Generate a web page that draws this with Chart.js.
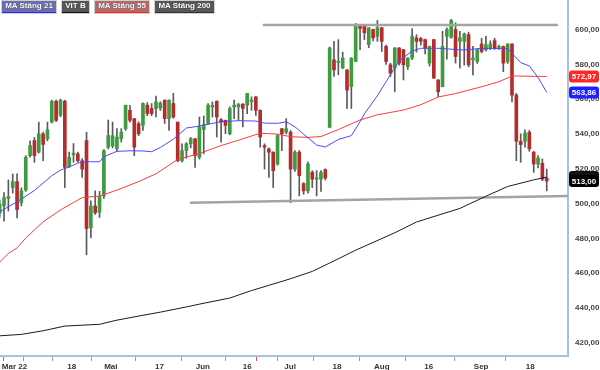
<!DOCTYPE html>
<html>
<head>
<meta charset="utf-8">
<script src="https://cdn.jsdelivr.net/npm/chart.js@4.4.1/dist/chart.umd.min.js"></script>
<style>
    html, body { margin: 0; padding: 0; background: #fff; }
    #wrap { position: relative; width: 600px; height: 370px; overflow: hidden; }
    .leg {
        position: absolute; top: 1px; height: 11px; line-height: 11px;
        font: bold 8px "Liberation Sans", Arial, sans-serif; color: #fff;
        text-align: center; border-bottom: 1px solid; box-shadow: 0 0 0 1px #d0d0d0;
        text-shadow: 0 0 1px #222;
    }
</style>
</head>
<body>
<div id="wrap">
    <canvas id="chart" width="600" height="370"></canvas>
    <div class="leg" style="left:2px;width:54px;background:#6e6eae;border-color:#2a2aff">MA Stäng 21</div>
    <div class="leg" style="left:62px;width:27px;background:#575757;border-color:#111">VIT B</div>
    <div class="leg" style="left:95px;width:54px;background:#b46a6a;border-color:#ff2020">MA Stäng 55</div>
    <div class="leg" style="left:155px;width:59px;background:#575757;border-color:#333">MA Stäng 200</div>
</div>
<script>
// Daily candles (one per trading day, index 0..126)
const opens = [494.5, 498.6, 503.0, 509.2, 512.6, 500.5, 507.7, 527.5, 536.2, 529.5,
    540.0, 537.2, 546.8, 558.8, 550.7, 558.8, 521.2, 528.0, 528.5, 524.6,
    536.2, 486.0, 498.6, 495.0, 504.4, 532.4, 533.0, 531.4, 537.2, 543.0,
    553.6, 548.8, 545.9, 545.0, 556.5, 554.6, 554.6, 554.8, 559.4, 548.8,
    557.5, 546.8, 524.6, 530.4, 534.3, 537.2, 526.6, 542.5, 546.0, 555.5,
    558.8, 548.2, 547.8, 540.1, 555.5, 555.5, 557.1, 556.5, 558.5, 561.3,
    553.6, 533.3, 531.4, 529.5, 522.7, 543.0, 541.0, 541.0, 519.8, 529.5,
    511.5, 507.3, 517.9, 514.0, 514.0, 519.4, 543.8, 582.6, 581.0, 577.8,
    576.8, 567.2, 581.6, 602.0, 602.9, 591.3, 600.0, 596.1, 601.0, 590.3,
    579.7, 577.8, 589.4, 588.4, 578.7, 583.6, 595.2, 594.8, 594.2, 580.7,
    594.2, 571.0, 567.2, 596.1, 595.5, 600.0, 593.2, 593.2, 597.1, 582.6,
    581.6, 591.7, 588.4, 589.0, 593.6, 589.6, 590.3, 581.6, 591.7, 562.3,
    535.8, 535.8, 541.0, 529.5, 522.7, 523.1, 514.6];
const highs = [502.0, 506.3, 513.6, 517.0, 517.0, 509.0, 527.5, 536.0, 538.0, 546.8,
    541.0, 546.8, 559.4, 559.4, 560.0, 559.4, 529.5, 534.5, 529.5, 525.8,
    541.0, 501.5, 507.3, 507.0, 531.0, 548.0, 546.8, 543.0, 543.0, 556.5,
    556.5, 548.8, 547.0, 557.8, 558.0, 557.5, 561.7, 558.5, 559.6, 559.6,
    563.3, 546.8, 534.3, 535.0, 538.0, 537.5, 549.7, 550.3, 557.5, 558.4,
    559.0, 548.8, 548.0, 555.5, 559.4, 557.5, 557.5, 563.3, 561.3, 561.5,
    553.8, 534.3, 532.0, 529.8, 539.6, 543.2, 548.8, 542.0, 530.5, 530.5,
    512.0, 524.0, 518.9, 518.9, 518.9, 520.0, 590.0, 593.2, 594.2, 587.0,
    577.0, 583.8, 603.5, 602.9, 603.0, 601.0, 600.2, 605.2, 601.2, 591.0,
    580.7, 589.6, 589.6, 588.6, 583.8, 600.6, 597.0, 595.5, 594.5, 590.5,
    594.4, 571.2, 599.0, 601.0, 605.8, 603.9, 599.0, 598.0, 598.5, 590.3,
    589.0, 595.0, 596.1, 593.5, 595.0, 591.0, 590.5, 591.8, 591.8, 563.3,
    540.1, 542.4, 542.0, 530.0, 527.5, 525.6, 519.8];
const lows = [492.0, 489.9, 495.7, 506.0, 491.8, 498.6, 507.0, 526.6, 523.7, 529.0,
    524.6, 536.0, 546.3, 547.0, 549.8, 509.2, 520.8, 523.7, 523.7, 515.0,
    470.6, 480.2, 493.7, 492.0, 503.0, 531.4, 532.0, 530.4, 535.3, 542.0,
    546.8, 527.5, 539.0, 542.0, 550.5, 550.5, 549.7, 553.5, 546.0, 542.0,
    549.0, 524.0, 523.7, 526.0, 532.0, 520.8, 525.6, 528.6, 545.5, 549.7,
    538.2, 535.3, 540.1, 539.5, 548.8, 547.8, 544.0, 551.7, 553.6, 550.7,
    532.4, 519.8, 515.0, 509.2, 522.0, 530.4, 540.0, 500.5, 518.5, 504.4,
    505.3, 506.0, 509.2, 504.4, 507.0, 513.5, 543.5, 573.0, 574.0, 577.5,
    554.6, 554.6, 581.5, 588.4, 594.2, 589.5, 593.5, 593.2, 587.4, 580.0,
    573.0, 564.2, 579.5, 571.0, 577.0, 582.6, 587.0, 591.0, 586.0, 579.0,
    572.0, 561.3, 567.0, 583.0, 595.0, 580.7, 577.8, 579.5, 578.5, 573.9,
    580.5, 586.5, 587.5, 588.5, 588.5, 588.5, 575.8, 580.5, 558.4, 524.6,
    523.7, 532.4, 530.0, 517.9, 520.5, 513.1, 507.3];
const closes = [499.7, 503.4, 504.0, 512.6, 496.6, 507.3, 526.6, 533.3, 527.5, 540.1,
    534.0, 542.4, 558.8, 547.8, 559.4, 520.8, 526.6, 529.0, 524.6, 519.8,
    485.6, 498.6, 494.7, 504.0, 530.4, 539.1, 539.0, 538.2, 541.0, 556.5,
    547.8, 532.4, 540.1, 557.5, 551.7, 551.7, 558.4, 557.7, 548.8, 559.4,
    549.7, 524.6, 530.4, 534.3, 537.2, 527.5, 544.0, 545.3, 556.5, 556.5,
    549.7, 546.8, 544.9, 554.6, 556.5, 557.1, 554.6, 563.3, 559.5, 553.6,
    538.2, 532.4, 529.5, 518.9, 539.1, 540.1, 543.0, 519.8, 529.5, 516.0,
    507.3, 522.7, 514.0, 514.8, 517.9, 514.6, 589.4, 576.8, 581.8, 583.6,
    565.2, 583.6, 602.9, 600.6, 598.1, 601.0, 595.2, 601.0, 593.2, 581.6,
    574.9, 589.4, 580.7, 579.7, 583.6, 596.1, 593.2, 593.2, 589.4, 590.3,
    572.0, 564.2, 590.3, 600.0, 605.2, 584.5, 595.2, 597.5, 579.7, 583.6,
    588.4, 587.4, 591.3, 591.7, 589.4, 590.2, 580.7, 591.7, 562.3, 535.8,
    533.9, 540.5, 531.4, 522.7, 526.2, 514.0, 513.0];

// Moving averages, read at selected trading days
const ma21Days = [0, 4, 8, 12, 14, 16, 18, 20, 23, 24, 27, 30, 33, 35, 37, 40, 43, 45, 47, 51,
    55, 59, 61, 64, 66, 68, 71, 73, 75, 78, 81, 83, 84, 87, 90, 92, 95, 97, 101, 107,
    111, 117, 118, 120, 122, 124, 126];
const ma21Values = [495.3, 501.0, 507.5, 516.0, 519.2, 521.0, 523.3, 524.0, 524.0, 526.9,
    530.0, 530.3, 530.2, 529.8, 532.2, 537.0, 543.4, 544.1, 545.1, 547.0,
    547.6, 547.4, 546.2, 546.1, 547.0, 544.1, 537.8, 533.6, 532.5, 536.8,
    539.0, 547.0, 551.5, 562.0, 574.0, 582.0, 587.6, 589.2, 589.2, 588.2,
    589.2, 589.0, 586.3, 581.0, 579.0, 572.5, 563.86];
const ma55Days = [0, 2, 4, 6, 10, 14, 17, 19, 23, 27, 32, 36, 41, 46, 51, 55, 60, 64, 67, 71,
    74, 78, 83, 87, 93, 97, 101, 105, 111, 115, 118, 121, 126];
const ma55Values = [466.4, 471.4, 474.5, 480.2, 489.5, 496.3, 500.6, 503.4, 504.3, 507.7,
    512.6, 517.1, 525.3, 528.8, 533.3, 536.4, 540.4, 539.9, 538.4, 538.0,
    538.5, 542.5, 548.0, 551.0, 553.7, 556.8, 561.2, 563.2, 567.1, 570.0,
    573.3, 573.2, 572.97];
const ma200Days = [0, 5, 10, 15, 23, 27, 33, 37, 43, 46, 53, 58, 62, 67, 72, 76, 82, 91, 96, 106,
    112, 117, 123, 126];
const ma200Values = [424.0, 424.8, 426.9, 429.6, 430.6, 433.0, 435.8, 437.6, 440.6, 442.2,
    445.7, 450.0, 453.0, 456.8, 461.0, 465.8, 473.2, 483.2, 489.4, 497.2,
    504.2, 509.8, 513.6, 515.2];

// Trend lines drawn on the chart: [day, price] at each end
const resistanceLine = [[60.6, 602.6], [128.6, 602.6]];
const supportLine = [[43.8, 500.4], [130.9, 504.3]];

// Axis ticks
const yTicks = [420, 440, 460, 480, 500, 520, 540, 560, 580, 600];
const xTickDays = [1.75, 3.4, 7.75, 16.6, 25.6, 36.8, 46.8, 57.0, 61.3, 66.9, 77.7, 88.0, 98.8, 110.9, 122.2];
const xTickLabels = ["", "Mar 22", "", "18", "Mai", "17", "Jun", "16", "", "Jul", "18", "Aug", "16", "Sep", "18"];
const xTickMarkColors = ["#e05050", "rgba(0,0,0,0)", "#7ea6c6", "#7ea6c6", "#7ea6c6", "#7ea6c6", "#7ea6c6",
    "#7ea6c6", "#e05050", "#7ea6c6", "#7ea6c6", "#7ea6c6", "#7ea6c6", "#7ea6c6", "#7ea6c6"];

const UP = "#3f9b3f";
const DOWN = "#b42c2c";
const AXIS = "#a8c2d6";
const FONT = { family: "'Liberation Sans', Arial, sans-serif", size: 8, weight: "bold" };

function fmt(v) {
    return v.toFixed(2).replace(".", ",");
}

function toPoints(days, values) {
    return days.map((d, i) => ({ x: d, y: values[i] }));
}

// Price boxes on the right axis
const priceTags = {
    id: "priceTags",
    afterDraw(chart) {
        const c = chart.ctx;
        const y = chart.scales.y;
        const left = chart.chartArea.right + 1;
        const tags = [
            { v: ma200Values[ma200Values.length - 1], color: "#111" },
            { v: closes[closes.length - 1], color: "#000" },
            { v: ma55Values[ma55Values.length - 1], color: "#ff2626" },
            { v: ma21Values[ma21Values.length - 1], color: "#2020ff" },
        ];
        c.save();
        c.font = "bold 8px 'Liberation Sans', Arial, sans-serif";
        c.textAlign = "center";
        c.textBaseline = "middle";
        tags.forEach((t) => {
            const py = y.getPixelForValue(t.v);
            c.fillStyle = t.color;
            c.beginPath();
            c.roundRect(left, py - 6, 30, 12, 3);
            c.fill();
            c.fillStyle = "#fff";
            c.fillText(fmt(t.v), left + 15, py + 0.5);
        });
        c.restore();
    },
};

const days = opens.map((_, i) => i);
const candleColor = (i) => (closes[i] >= opens[i] ? UP : DOWN);

new Chart(document.getElementById("chart"), {
    type: "bar",
    data: {
        datasets: [
            {
                type: "line",
                data: toPoints(ma21Days, ma21Values),
                borderColor: "#4a4aff",
                borderWidth: 1,
                pointRadius: 0,
                order: 1,
            },
            {
                type: "line",
                data: toPoints(ma55Days, ma55Values),
                borderColor: "#ff3c3c",
                borderWidth: 1,
                pointRadius: 0,
                order: 1,
            },
            {
                type: "line",
                data: toPoints(ma200Days, ma200Values),
                borderColor: "#1c1c1c",
                borderWidth: 1,
                pointRadius: 0,
                order: 1,
            },
            {
                type: "line",
                data: resistanceLine.map((p) => ({ x: p[0], y: p[1] })),
                borderColor: "#a4a4a4",
                borderWidth: 2.5,
                pointRadius: 0,
                order: 2,
            },
            {
                type: "line",
                data: supportLine.map((p) => ({ x: p[0], y: p[1] })),
                borderColor: "#a4a4a4",
                borderWidth: 2.5,
                pointRadius: 0,
                order: 2,
            },
            {
                // wicks
                data: days.map((i) => ({ x: i, y: [lows[i], highs[i]] })),
                backgroundColor: "#5a5a5a",
                barThickness: 1,
                grouped: false,
                order: 4,
            },
            {
                // bodies
                data: days.map((i) => ({ x: i, y: [opens[i], closes[i]] })),
                backgroundColor: (ctx) => candleColor(ctx.dataIndex),
                barThickness: 3,
                minBarLength: 1,
                grouped: false,
                order: 3,
            },
        ],
    },
    options: {
        responsive: false,
        animation: false,
        layout: { padding: 0 },
        plugins: { legend: { display: false }, tooltip: { enabled: false } },
        scales: {
            x: {
                type: "linear",
                min: 0.07,
                max: 130.9,
                offset: false,
                afterBuildTicks: (s) => {
                    s.ticks = xTickDays.map((v) => ({ value: v }));
                },
                afterFit: (s) => {
                    s.height = 14;
                    s.paddingLeft = 0;
                    s.paddingRight = 0;
                },
                ticks: {
                    autoSkip: false,
                    maxRotation: 0,
                    padding: 1,
                    color: "#333",
                    font: FONT,
                    callback: (v, i) => xTickLabels[i],
                },
                grid: {
                    drawOnChartArea: false,
                    drawTicks: true,
                    tickLength: 5,
                    tickWidth: 1,
                    tickColor: (ctx) => xTickMarkColors[ctx.index],
                },
                border: { color: AXIS, width: 2 },
            },
            y: {
                type: "linear",
                position: "right",
                min: 412.4,
                max: 616.95,
                afterBuildTicks: (s) => {
                    s.ticks = yTicks.map((v) => ({ value: v }));
                },
                afterFit: (s) => {
                    s.width = 32;
                    s.paddingTop = 0;
                    s.paddingBottom = 0;
                },
                ticks: {
                    padding: 7,
                    color: "#444",
                    font: FONT,
                    callback: (v) => fmt(v),
                },
                grid: { drawOnChartArea: false, drawTicks: false },
                border: { color: AXIS, width: 2 },
            },
        },
    },
    plugins: [priceTags],
});
</script>
</body>
</html>
